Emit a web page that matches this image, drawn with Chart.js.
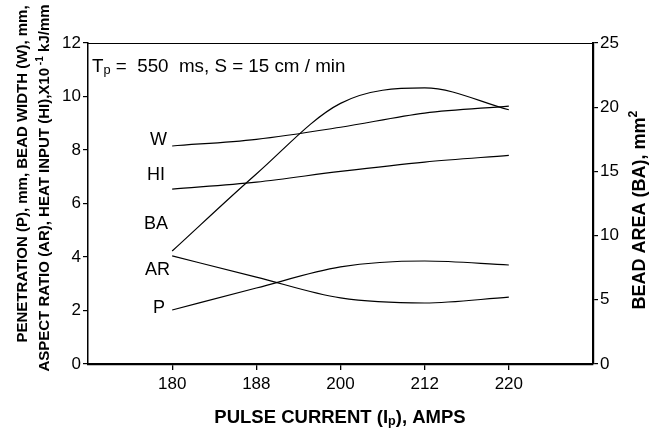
<!DOCTYPE html>
<html>
<head>
<meta charset="utf-8">
<script src="https://cdn.jsdelivr.net/npm/chart.js@4.4.1/dist/chart.umd.min.js"></script>
<style>
  body { margin: 0; background: #fff; }
  #wrap { width: 656px; height: 430px; }
</style>
</head>
<body>
<div id="wrap"><canvas id="chart"></canvas></div>
<script>
// Pulse current categories (evenly spaced on the axis)
const currents = ['180', '188', '200', '212', '220'];

// Left axis series
const widthW = [8.15, 8.4, 8.85, 9.38, 9.64];
const heatHI = [6.54, 6.8, 7.2, 7.55, 7.8];
const aspectAR = [4.04, 3.25, 2.47, 2.28, 2.5];
const penetrationP = [2.02, 2.84, 3.63, 3.85, 3.7];

// Right axis series
const beadBA = [8.8, 14.8, 20.3, 21.5, 19.8];

const leftTicks = [0, 2, 4, 6, 8, 10, 12];
const rightTicks = [0, 5, 10, 15, 20, 25];

const FONT = '"Liberation Sans", Arial, sans-serif';

function toPoints(values) {
    return values.map((v, i) => ({ x: i, y: v }));
}

function lineSet(label, values, axis) {
    return {
        label: label,
        data: toPoints(values),
        yAxisID: axis,
        borderColor: '#000',
        borderWidth: 1.2,
        pointRadius: 0,
        fill: false,
        cubicInterpolationMode: 'monotone'
    };
}

// draw a run of [text, kind] parts, kind: '' normal, 'sub', 'sup'
function drawRich(ctx, parts, x, y, size, bold, align) {
    const weight = bold ? 'bold ' : '';
    let total = 0;
    parts.forEach(([t, k]) => {
        ctx.font = weight + (k ? size * 0.68 : size) + 'px ' + FONT;
        total += ctx.measureText(t).width;
    });
    let cx = align === 'center' ? x - total / 2 : x;
    ctx.textAlign = 'left';
    ctx.textBaseline = 'alphabetic';
    parts.forEach(([t, k]) => {
        ctx.font = weight + (k ? size * 0.68 : size) + 'px ' + FONT;
        let dy = 0;
        if (k === 'sub') dy = size * 0.12;
        if (k === 'sup') dy = -size * 0.42;
        ctx.fillText(t, cx, y + dy);
        cx += ctx.measureText(t).width;
    });
}

const annotations = {
    id: 'annotations',
    afterDraw(chart) {
        const ctx = chart.ctx;
        const area = chart.chartArea;
        ctx.save();
        ctx.fillStyle = '#000';
        ctx.strokeStyle = '#000';

        // top frame line
        ctx.lineWidth = 1;
        ctx.beginPath();
        ctx.moveTo(area.left, area.top + 0.5);
        ctx.lineTo(area.right, area.top + 0.5);
        ctx.stroke();

        // condition note
        drawRich(ctx, [['T', ''], ['p', 'sub'], [' =  550  ms, S = 15 cm / min', '']],
            area.left + 4, 72, 18.8, false, 'left');

        // curve labels, to the left of the first point
        ctx.font = '18px ' + FONT;
        ctx.textAlign = 'right';
        ctx.textBaseline = 'middle';
        ctx.fillText('W', 167, 140);
        ctx.fillText('HI', 165, 175);
        ctx.fillText('BA', 168, 224);
        ctx.fillText('AR', 170, 270);
        ctx.fillText('P', 165, 308);

        // x axis title
        drawRich(ctx, [['PULSE CURRENT (I', ''], ['p', 'sub'], ['), AMPS', '']],
            340, 423, 18.5, true, 'center');

        // left axis title (two rotated lines)
        ctx.save();
        ctx.translate(27, 174);
        ctx.rotate(-Math.PI / 2);
        drawRich(ctx, [['PENETRATION (P), mm, BEAD WIDTH (W), mm,', '']], 0, 0, 15, true, 'center');
        ctx.restore();
        ctx.save();
        ctx.translate(49, 188);
        ctx.rotate(-Math.PI / 2);
        drawRich(ctx, [['ASPECT RATIO (AR), HEAT INPUT (HI),X10', ''], [' -1', 'sup'], [' kJ/mm', '']],
            0, 0, 15, true, 'center');
        ctx.restore();

        // right axis title
        ctx.save();
        ctx.translate(645, 210);
        ctx.rotate(-Math.PI / 2);
        drawRich(ctx, [['BEAD AREA (BA), mm', ''], ['2', 'sup']], 0, 0, 18, true, 'center');
        ctx.restore();

        ctx.restore();
    }
};

new Chart(document.getElementById('chart'), {
    type: 'line',
    data: {
        datasets: [
            lineSet('W', widthW, 'yLeft'),
            lineSet('HI', heatHI, 'yLeft'),
            lineSet('BA', beadBA, 'yRight'),
            lineSet('AR', aspectAR, 'yLeft'),
            lineSet('P', penetrationP, 'yLeft')
        ]
    },
    options: {
        responsive: true,
        maintainAspectRatio: false,
        animation: false,
        layout: { padding: { top: 43, left: 0, right: 0, bottom: 0 } },
        plugins: {
            legend: { display: false },
            tooltip: { enabled: false }
        },
        scales: {
            x: {
                type: 'linear',
                min: -1,
                max: 5,
                afterBuildTicks(scale) {
                    scale.ticks = currents.map((c, i) => ({ value: i }));
                },
                afterFit(scale) { scale.height = 66; },
                ticks: {
                    color: '#000',
                    font: { family: FONT, size: 17 },
                    padding: 4,
                    maxRotation: 0,
                    callback: (v) => currents[v] ?? ''
                },
                grid: { drawOnChartArea: false, drawTicks: true, tickLength: 6, color: '#000', lineWidth: 1.3 },
                border: { display: true, color: '#000', width: 2.2 }
            },
            yLeft: {
                type: 'linear',
                position: 'left',
                min: 0,
                max: 12,
                afterBuildTicks(scale) {
                    scale.ticks = leftTicks.map(v => ({ value: v }));
                },
                afterFit(scale) { scale.width = 88; },
                ticks: {
                    color: '#000',
                    font: { family: FONT, size: 17 },
                    padding: 2
                },
                grid: { drawOnChartArea: false, drawTicks: true, tickLength: 5, color: '#000', lineWidth: 1.2 },
                border: { display: true, color: '#000', width: 1.5 }
            },
            yRight: {
                type: 'linear',
                position: 'right',
                min: 0,
                max: 25,
                afterBuildTicks(scale) {
                    scale.ticks = rightTicks.map(v => ({ value: v }));
                },
                afterFit(scale) { scale.width = 63; },
                ticks: {
                    color: '#000',
                    font: { family: FONT, size: 17 },
                    padding: 2
                },
                grid: { drawOnChartArea: false, drawTicks: true, tickLength: 5, color: '#000', lineWidth: 1.2 },
                border: { display: true, color: '#000', width: 2.2 }
            }
        }
    },
    plugins: [annotations]
});
</script>
</body>
</html>
